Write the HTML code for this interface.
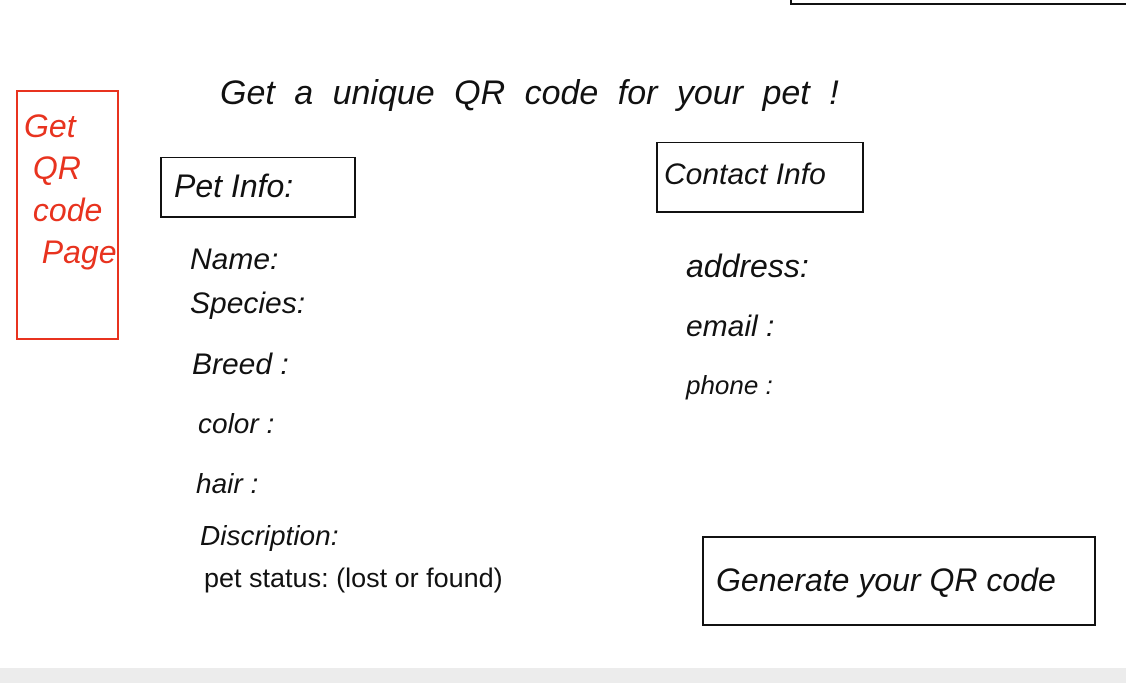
<!DOCTYPE html>
<html><head><meta charset="utf-8"><style>
html,body{margin:0;padding:0}
body{width:1126px;height:683px;background:#fff;position:relative;overflow:hidden;font-family:"Liberation Sans",sans-serif;color:#111}
.t{position:absolute;white-space:nowrap;font-style:italic;font-weight:normal}
.b{position:absolute;border:2px solid #111}
</style></head><body>
<div style="position:absolute;left:790px;top:-2px;width:336px;height:5px;border-left:2px solid #111;border-bottom:2px solid #111"></div>

<div class="b" style="left:16px;top:90px;width:99px;height:246px;border-color:#e8331f"></div>
<div class="t" style="left:24px;top:105px;color:#e8331f;font-size:32px;line-height:42px;">Get<br>&nbsp;QR<br>&nbsp;code<br>&nbsp;&nbsp;Page</div>

<div class="t" style="left:220px;top:74px;font-size:34px;word-spacing:10px">Get a unique QR code for your pet !</div>

<div class="b" style="left:160px;top:157px;width:192px;height:58px;border-top-width:1px"></div>
<div class="t" style="left:174px;top:168px;font-size:32px">Pet Info:</div>

<div class="b" style="left:656px;top:142px;width:204px;height:68px;border-top-width:1px"></div>
<div class="t" style="left:664px;top:158px;font-size:30px">Contact Info</div>

<div class="t" style="left:190px;top:243px;font-size:30px">Name:</div>
<div class="t" style="left:190px;top:287px;font-size:30px">Species:</div>
<div class="t" style="left:192px;top:348px;font-size:30px">Breed :</div>
<div class="t" style="left:198px;top:408px;font-size:28px">color :</div>
<div class="t" style="left:196px;top:468px;font-size:28px">hair :</div>
<div class="t" style="left:200px;top:520px;font-size:28px">Discription:</div>
<div style="position:absolute;left:204px;top:563px;font-size:27px;white-space:nowrap">pet status: (lost or found)</div>

<div class="t" style="left:686px;top:248px;font-size:32px">address:</div>
<div class="t" style="left:686px;top:310px;font-size:30px">email :</div>
<div class="t" style="left:686px;top:370px;font-size:26px">phone :</div>

<div class="b" style="left:702px;top:536px;width:390px;height:86px"></div>
<div class="t" style="left:716px;top:562px;font-size:32px">Generate your QR code</div>

<div style="position:absolute;left:0;top:668px;width:1126px;height:15px;background:#ececec"></div>
</body></html>
